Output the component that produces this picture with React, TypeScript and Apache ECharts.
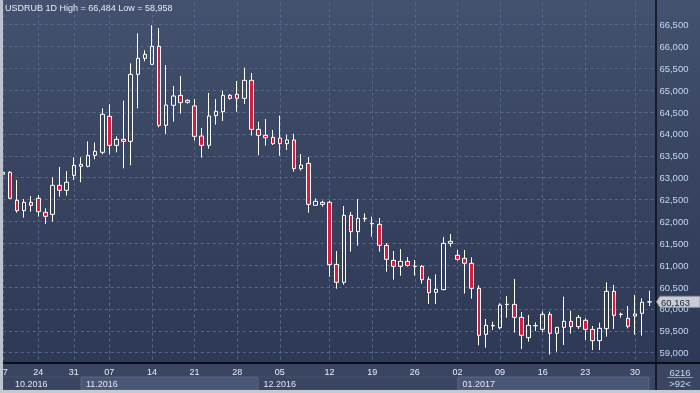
import React, { useEffect, useRef } from "react";
import * as echarts from "echarts";

// ---------- data ----------
const symbol = "USDRUB";
const period = "1D";

const opens = [
  63076, 63122, 62482, 62246, 62437, 62528, 62208, 62162, 62825, 62711,
  63053, 63259, 63259, 63511, 63579, 64402, 63739, 63876, 63830, 65361,
  65727, 65590, 66001, 64196, 64653, 64881, 64721, 64638, 63952, 63739,
  64417, 64508, 64881, 64904, 64813, 65224, 64104, 63967, 63922, 63906,
  63777, 63861, 63206, 63327, 62368, 62390, 62436, 61019, 60608, 62139,
  61766, 62060, 61955, 61933, 61453, 61111, 60974, 61088, 60974, 60974,
  60677, 60380, 60441, 61500, 61226, 61157, 61043, 60471, 59420, 59615,
  59572, 60100, 60105, 59808, 59344, 59616, 59534, 59877, 59443, 59580,
  59717, 59595, 59740, 59534, 59275, 59549, 60402, 59875, 59786, 59839,
  59900, 60160,
];
const closes = [
  63122, 62528, 62246, 62437, 62368, 62223, 62117, 62825, 62711, 62894,
  63282, 63305, 63511, 63602, 64447, 63739, 63876, 63830, 65361, 65727,
  65818, 66001, 64196, 64660, 64866, 64714, 64767, 63944, 63739, 64409,
  64516, 64881, 64813, 64813, 65224, 64104, 63967, 63914, 63777, 63777,
  63861, 63206, 63289, 62390, 62459, 62436, 61012, 60608, 62139, 61766,
  62070, 62070, 61945, 61453, 61134, 60974, 61088, 60996, 60976, 60669,
  60372, 60449, 61500, 61545, 61134, 61043, 60471, 59398, 59626, 59620,
  60090, 60108, 59808, 59397, 59626, 59620, 59877, 59443, 59580, 59717,
  59595, 59808, 59534, 59275, 59557, 60402, 59854, 59879, 59603, 59885,
  60151, 60163,
];
const lows = [
  63070, 62513, 62200, 62086, 62223, 62109, 61941, 61995, 62566, 62589,
  62947, 62894, 63236, 63419, 63533, 63533, 63579, 63213, 63282, 64584,
  65659, 65580, 64150, 64000, 64280, 64462, 64691, 63845, 63457, 63663,
  64211, 64295, 64782, 64508, 64683, 63960, 63510, 63731, 63746, 63503,
  63632, 63137, 63160, 62200, 62368, 62337, 60737, 60463, 60555, 61309,
  61446, 61994, 61652, 61309, 60852, 60669, 60760, 60966, 60760, 60578,
  60113, 60113, 60426, 61424, 61104, 60350, 60235, 59169, 59116, 59519,
  59534, 59801, 59458, 59085, 59252, 59496, 59466, 58958, 59024, 59176,
  59435, 59542, 59290, 59062, 59062, 59367, 59542, 59801, 59557, 59412,
  59390, 60067,
];
const highs = [
  63130, 63152, 62947, 62513, 62581, 62604, 62299, 63008, 63244, 63152,
  63465, 63465, 63830, 63807, 64584, 64676, 63945, 64760, 65613, 66298,
  65910, 66484, 66420, 65574, 65095, 65323, 64790, 64798, 64135, 64935,
  64798, 64988, 64912, 65209, 65514, 65392, 64280, 64341, 64089, 64417,
  63982, 64000, 63541, 63472, 62528, 62474, 62474, 61324, 62352, 62215,
  62512, 62185, 62109, 62078, 61507, 61324, 61370, 61187, 61118, 61004,
  60738, 60791, 61644, 61713, 61348, 61348, 61180, 60540, 59771, 59709,
  60128, 60296, 60684, 59930, 59862, 59694, 59946, 59938, 59585, 60281,
  59961, 59862, 59786, 59610, 59687, 60608, 60547, 59915, 60067, 60319,
  60243, 60418,
];

// x-axis ticks (candle index -> day label)
const tickIndex = [0, 5, 10, 15, 21, 27, 33, 39, 46, 52, 58, 64, 70, 76, 82, 89];
const tickLabels = ["17", "24", "31", "07", "14", "21", "28", "05", "12", "19", "26", "02", "09", "16", "23", "30"];
// month strip
const monthLabels = ["10.2016", "11.2016", "12.2016", "01.2017", "02.2017"];
const monthStartIndex = [-10, 11, 36, 64, 91];
const totalBarsText = "6216";

// y axis
const Y_MIN = 58500;
const Y_MAX = 67000;
const Y_STEP = 500;

// ---------- layout ----------
const W = 700;
const H = 393;
const GRID_LEFT = 2.8;
const GRID_TOP = 2.62;
const GRID_W = 653.6;
const GRID_H = 371.96;
const AXIS_Y = 363;
const PANEL_X = 656;
const FONT = "'Liberation Sans', Arial, sans-serif";

const fmt = (v: number) => v.toLocaleString("en-US");

export default function App() {
  const ref = useRef<HTMLDivElement>(null);

  useEffect(() => {
    if (!ref.current) return;
    const chart = echarts.init(ref.current, undefined, { renderer: "svg" });

    const N = opens.length;
    const categories = Array.from({ length: N + 1 }, (_, i) => String(i));
    const step = GRID_W / N;
    const xPix = (i: number) => GRID_LEFT + i * step;
    const yPix = (v: number) => GRID_TOP + ((Y_MAX - v) / (Y_MAX - Y_MIN)) * GRID_H;
    const tickSet = new Set(tickIndex);
    const candles = opens.map((o, i) => [o, closes[i], lows[i], highs[i]]);
    const hi = Math.max(...highs);
    const lo = Math.min(...lows);
    const last = closes[N - 1];
    const yc = yPix(last);

    const graphics: any[] = [];
    graphics.push({
      type: "rect",
      z: -10,
      shape: { x: 0, y: 0, width: W, height: H },
      style: {
        fill: new echarts.graphic.LinearGradient(0, 0, 0, 1, [
          { offset: 0, color: "#44526f" },
          { offset: 0.45, color: "#37435f" },
          { offset: 1, color: "#2c3853" },
        ]),
      },
    });
    // bottom axis panel
    graphics.push({
      type: "rect",
      z: 3,
      shape: { x: 0, y: AXIS_Y + 1, width: W, height: H - AXIS_Y - 1 },
      style: { fill: "#3a4562" },
    });
    // month bands
    monthLabels.forEach((m, k) => {
      const left = Math.max(xPix(monthStartIndex[k]) + 0.5, 3);
      const right = k + 1 < monthLabels.length ? xPix(monthStartIndex[k + 1]) - 0.5 : PANEL_X;
      const light = k % 2 === 1;
      graphics.push({
        type: "rect",
        z: 4,
        shape: { x: left, y: 377, width: Math.max(0, Math.min(right, PANEL_X) - left), height: 13 },
        style: { fill: light ? "#4a5675" : "#3a4562", stroke: light ? "#5a6684" : "#46516c", lineWidth: 1 },
      });
      const tx = Math.max(left, 10.5) + 4.5;
      const room = PANEL_X - tx;
      graphics.push({
        type: "text",
        z: 6,
        x: tx,
        y: 384,
        style: {
          text: m,
          fill: "#dfe5ef",
          font: `9px ${FONT}`,
          verticalAlign: "middle",
          ...(room < 40 ? { width: Math.max(room, 5), overflow: "truncate", ellipsis: "" } : {}),
        },
      });
    });
    // right panel cover below axis
    graphics.push({
      type: "rect",
      z: 7,
      shape: { x: PANEL_X, y: AXIS_Y + 1, width: W - PANEL_X, height: H - AXIS_Y - 1 },
      style: { fill: "#3a4562" },
    });
    graphics.push({
      type: "text",
      z: 8,
      x: 680,
      y: 372,
      style: { text: totalBarsText, fill: "#c9d9f0", font: `9.5px ${FONT}`, align: "center", verticalAlign: "middle" },
    });
    graphics.push({
      type: "line",
      z: 8,
      shape: { x1: 667, y1: 377.5, x2: 693, y2: 377.5 },
      style: { stroke: "#8d9ab0", lineWidth: 1 },
    });
    graphics.push({
      type: "text",
      z: 8,
      x: 680,
      y: 383.5,
      style: { text: `>${N}<`, fill: "#c9d9f0", font: `9.5px ${FONT}`, align: "center", verticalAlign: "middle" },
    });
    // frame lines
    graphics.push({ type: "rect", z: 20, shape: { x: PANEL_X - 0.75, y: 0, width: 1.5, height: H - 3 }, style: { fill: "#0a0e16" } });
    graphics.push({ type: "rect", z: 20, shape: { x: 3, y: AXIS_Y - 1, width: W - 3, height: 2 }, style: { fill: "#0a0e16" } });
    graphics.push({ type: "rect", z: 21, shape: { x: 0, y: 0, width: 3, height: H }, style: { fill: "#bcc3ce" } });
    graphics.push({ type: "rect", z: 21, shape: { x: 0, y: H - 3, width: W, height: 3 }, style: { fill: "#c5cad2" } });
    // last price tag
    graphics.push({
      type: "polygon",
      z: 22,
      shape: {
        points: [
          [PANEL_X + 0.5, yc],
          [PANEL_X + 4, yc - 5.5],
          [W, yc - 5.5],
          [W, yc + 5.5],
          [PANEL_X + 4, yc + 5.5],
        ],
      },
      style: { fill: "#c9ced6", stroke: "#8e949e", lineWidth: 1 },
    });
    graphics.push({
      type: "text",
      z: 23,
      x: 661,
      y: yc + 0.5,
      style: { text: fmt(last), fill: "#1a1e2c", font: `9.5px ${FONT}`, verticalAlign: "middle" },
    });

    const option: any = {
      animation: false,
      title: {
        text: `${symbol} ${period} High = ${fmt(hi)} Low = ${fmt(lo)}`,
        left: 5,
        top: 3,
        padding: 0,
        textStyle: { color: "#e4eaf4", fontSize: 9, fontWeight: "normal", fontFamily: FONT },
      },
      graphic: graphics,
      grid: {
        left: GRID_LEFT,
        top: GRID_TOP,
        width: GRID_W,
        height: GRID_H,
        containLabel: false,
        outerBoundsMode: "none",
      },
      xAxis: [
        {
          type: "category",
          data: categories,
          boundaryGap: false,
          axisLine: { show: false },
          axisTick: { show: false },
          axisLabel: { show: false },
          splitLine: {
            show: true,
            interval: (i: number) => tickSet.has(i),
            lineStyle: { color: "#58668a", type: [3, 3], width: 1 },
          },
        },
        {
          type: "category",
          data: categories,
          boundaryGap: false,
          position: "bottom",
          offset: AXIS_Y - (GRID_TOP + GRID_H),
          z: 10,
          axisLine: { show: false },
          axisTick: { show: false },
          splitLine: { show: false },
          axisLabel: {
            show: true,
            margin: 4,
            interval: (i: number) => tickSet.has(i),
            formatter: (_v: string, i: number) => {
              const k = tickIndex.indexOf(i);
              return k >= 0 ? tickLabels[k] : "";
            },
            color: "#e9edf5",
            fontSize: 9,
            fontFamily: FONT,
            hideOverlap: false,
          },
        },
      ],
      yAxis: {
        type: "value",
        position: "right",
        min: Y_MIN,
        max: Y_MAX,
        interval: Y_STEP,
        axisLine: { show: false },
        axisTick: { show: false },
        axisLabel: {
          margin: 3,
          color: "#c2d8f4",
          fontSize: 9.5,
          fontFamily: FONT,
          showMinLabel: false,
          showMaxLabel: false,
          formatter: (v: number) => (v <= Y_MIN || v >= Y_MAX ? "" : fmt(v)),
        },
        splitLine: {
          show: true,
          showMinLine: false,
          showMaxLine: false,
          lineStyle: { color: "#58668a", type: [3, 3], width: 1 },
        },
      },
      series: [
        {
          type: "candlestick",
          xAxisIndex: 0,
          data: candles,
          barWidth: 4,
          clip: false,
          itemStyle: {
            color: "rgba(0,0,0,0)",
            color0: "#dc1a3c",
            borderColor: "#ffffff",
            borderColor0: "#ffffff",
            borderColorDoji: "#ffffff",
            borderWidth: 1,
          },
        },
      ],
    };

    chart.setOption(option);
    return () => chart.dispose();
  }, []);

  return (
    <div
      ref={ref}
      style={{ position: "fixed", left: 0, top: 0, width: W, height: H }}
    />
  );
}
